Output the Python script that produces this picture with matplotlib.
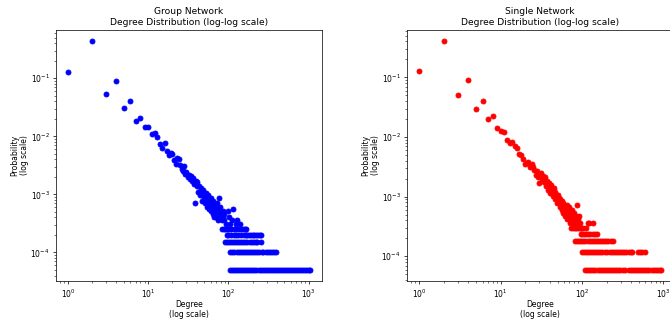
import numpy as np
import matplotlib
matplotlib.use("Agg")
import matplotlib.pyplot as plt

# ---- Group network: node counts per degree ----
group_nodes = 19700
group_head_k = [1, 2, 3, 4, 5, 6, 7, 8, 9, 10, 11, 12, 13, 14, 15, 16, 17, 18, 19, 20,
                21, 22, 23, 24, 25, 26, 27, 28, 29, 30, 31, 32, 33, 34, 35, 36, 37, 38, 39, 40,
                41, 42, 43, 44, 45, 46, 47, 48, 49, 50, 51, 52, 53, 54, 55, 56, 57, 58, 59, 60,
                61, 62, 63, 64, 65, 66, 67, 68, 69, 70, 71, 72, 73, 74, 75, 76, 77, 78, 79, 80,
                82, 84, 85, 86, 88, 89, 93, 98, 103, 105, 111, 113, 123, 129, 138]
group_head_n = [2560, 8470, 1064, 1793, 611, 808, 355, 408, 290, 290, 213, 229, 195, 144, 122, 150, 110, 93, 102, 98,
                77, 67, 85, 79, 62, 55, 50, 60, 44, 47, 40, 43, 36, 41, 33, 38, 30, 14, 34, 27,
                32, 22, 28, 19, 25, 21, 15, 23, 17, 20, 14, 18, 21, 12, 16, 19, 11, 15, 13, 17,
                10, 14, 12, 9, 15, 11, 8, 13, 10, 12, 8, 14, 9, 11, 7, 10, 17, 8, 12, 9,
                9, 7, 10, 8, 7, 9, 6, 10, 8, 6, 7, 11, 6, 7, 6]
# degrees held by exactly 1..5 nodes
group_k_n1 = [104, 110, 117, 124, 132, 140, 148, 157, 167, 177, 188, 199, 211, 224, 238, 252,
              267, 283, 300, 318, 337, 357, 378, 400, 424, 449, 476, 504, 534, 566, 600, 636,
              674, 714, 757, 802, 850, 901, 955, 1012, 1040]
group_k_n2 = [106, 112, 119, 127, 135, 144, 153, 162, 171, 182, 193, 205, 217, 230, 244, 259,
              274, 291, 308, 327, 346, 367, 389]
group_k_n3 = [92, 97, 102, 108, 114, 121, 128, 136, 145, 154, 163, 173, 184, 195, 207, 219, 229, 257]
group_k_n4 = [95, 100, 107, 116, 125, 133, 142, 158, 166, 172, 181, 190, 200, 210, 221, 233, 245, 254]
group_k_n5 = [83, 87, 91, 96, 101, 109, 118, 126, 134, 143, 151, 160, 165]

# ---- Single network: node counts per degree ----
single_nodes = 16700
single_head_k = [1, 2, 3, 4, 5, 6, 7, 8, 9, 10, 11, 12, 13, 14, 15, 16, 17, 18, 19, 20,
                 21, 22, 23, 24, 25, 26, 27, 28, 29, 30, 31, 32, 33, 34, 35, 36, 37, 38, 39, 40,
                 41, 42, 43, 44, 45, 46, 47, 48, 49, 50, 51, 52, 53, 54, 55, 56, 57, 58, 59, 60,
                 61, 62, 63, 64, 65, 66, 67, 68, 69, 70, 71, 72, 73, 75, 76, 77, 79, 80, 83, 84,
                 86, 88, 90, 91, 93]
single_head_n = [2154, 6680, 852, 1520, 501, 668, 339, 376, 239, 214, 200, 149, 132, 139, 119, 109, 87, 82, 72, 58,
                 62, 63, 52, 58, 53, 47, 39, 45, 36, 28, 41, 33, 37, 29, 35, 25, 31, 22, 28, 24,
                 19, 26, 21, 17, 23, 15, 20, 17, 13, 18, 14, 16, 11, 15, 12, 14, 10, 13, 9, 12,
                 10, 8, 11, 9, 12, 7, 10, 8, 11, 7, 9, 6, 8, 10, 7, 6, 9, 7, 6, 8,
                 12, 7, 6, 8, 6]
single_k_n1 = [109, 115, 122, 130, 138, 146, 155, 164, 174, 185, 196, 208, 221, 234, 248, 263,
               279, 296, 314, 333, 375, 398, 422, 447, 474, 503, 533, 565, 599, 635, 673, 714,
               757, 802, 850, 901, 930]
single_k_n2 = [100, 106, 112, 119, 126, 133, 141, 150, 159, 168, 178, 189, 201, 220, 233, 247,
               262, 278, 294, 312, 331, 351, 372, 394, 410, 492, 520, 551, 588]
single_k_n3 = [82, 87, 92, 97, 103, 110, 117, 124, 131, 139, 147, 156, 165, 175, 186, 197, 209, 225, 240]
single_k_n4 = [96, 101, 107, 113, 120, 127, 135, 144, 151]
single_k_n5 = [74, 78, 81, 85, 89, 94, 98, 104, 111]
single_k_n6 = [95, 118, 123, 137]


def distribution(head_k, head_n, rows, total):
    k = list(head_k)
    n = list(head_n)
    for count, degrees in rows:
        k += degrees
        n += [count] * len(degrees)
    return np.array(k, dtype=float), np.array(n, dtype=float) / total


gk, gp = distribution(group_head_k, group_head_n,
                      [(1, group_k_n1), (2, group_k_n2), (3, group_k_n3),
                       (4, group_k_n4), (5, group_k_n5)], group_nodes)
sk, sp = distribution(single_head_k, single_head_n,
                      [(1, single_k_n1), (2, single_k_n2), (3, single_k_n3),
                       (4, single_k_n4), (5, single_k_n5), (6, single_k_n6)], single_nodes)

plt.rcParams["font.size"] = 8.4

dpi = 65
fig = plt.figure(figsize=(670 / dpi, 320 / dpi), dpi=dpi)
ax1 = fig.add_axes([0.0836, 0.122, 0.397, 0.784])
ax2 = fig.add_axes([0.6075, 0.122, 0.397, 0.784])

for ax, k, p, color, name in [(ax1, gk, gp, "blue", "Group Network"),
                              (ax2, sk, sp, "red", "Single Network")]:
    ax.scatter(k, p, s=30, color=color)
    ax.set_xscale("log")
    ax.set_yscale("log")
    ax.set_title(f"{name}\nDegree Distribution (log-log scale)")
    ax.set_xlabel("Degree\n(log scale)", labelpad=0.5, linespacing=1.1)
    ax.set_ylabel("Probability\n(log scale)", labelpad=2, linespacing=1.1)

fig.savefig("out.png", dpi=dpi)
